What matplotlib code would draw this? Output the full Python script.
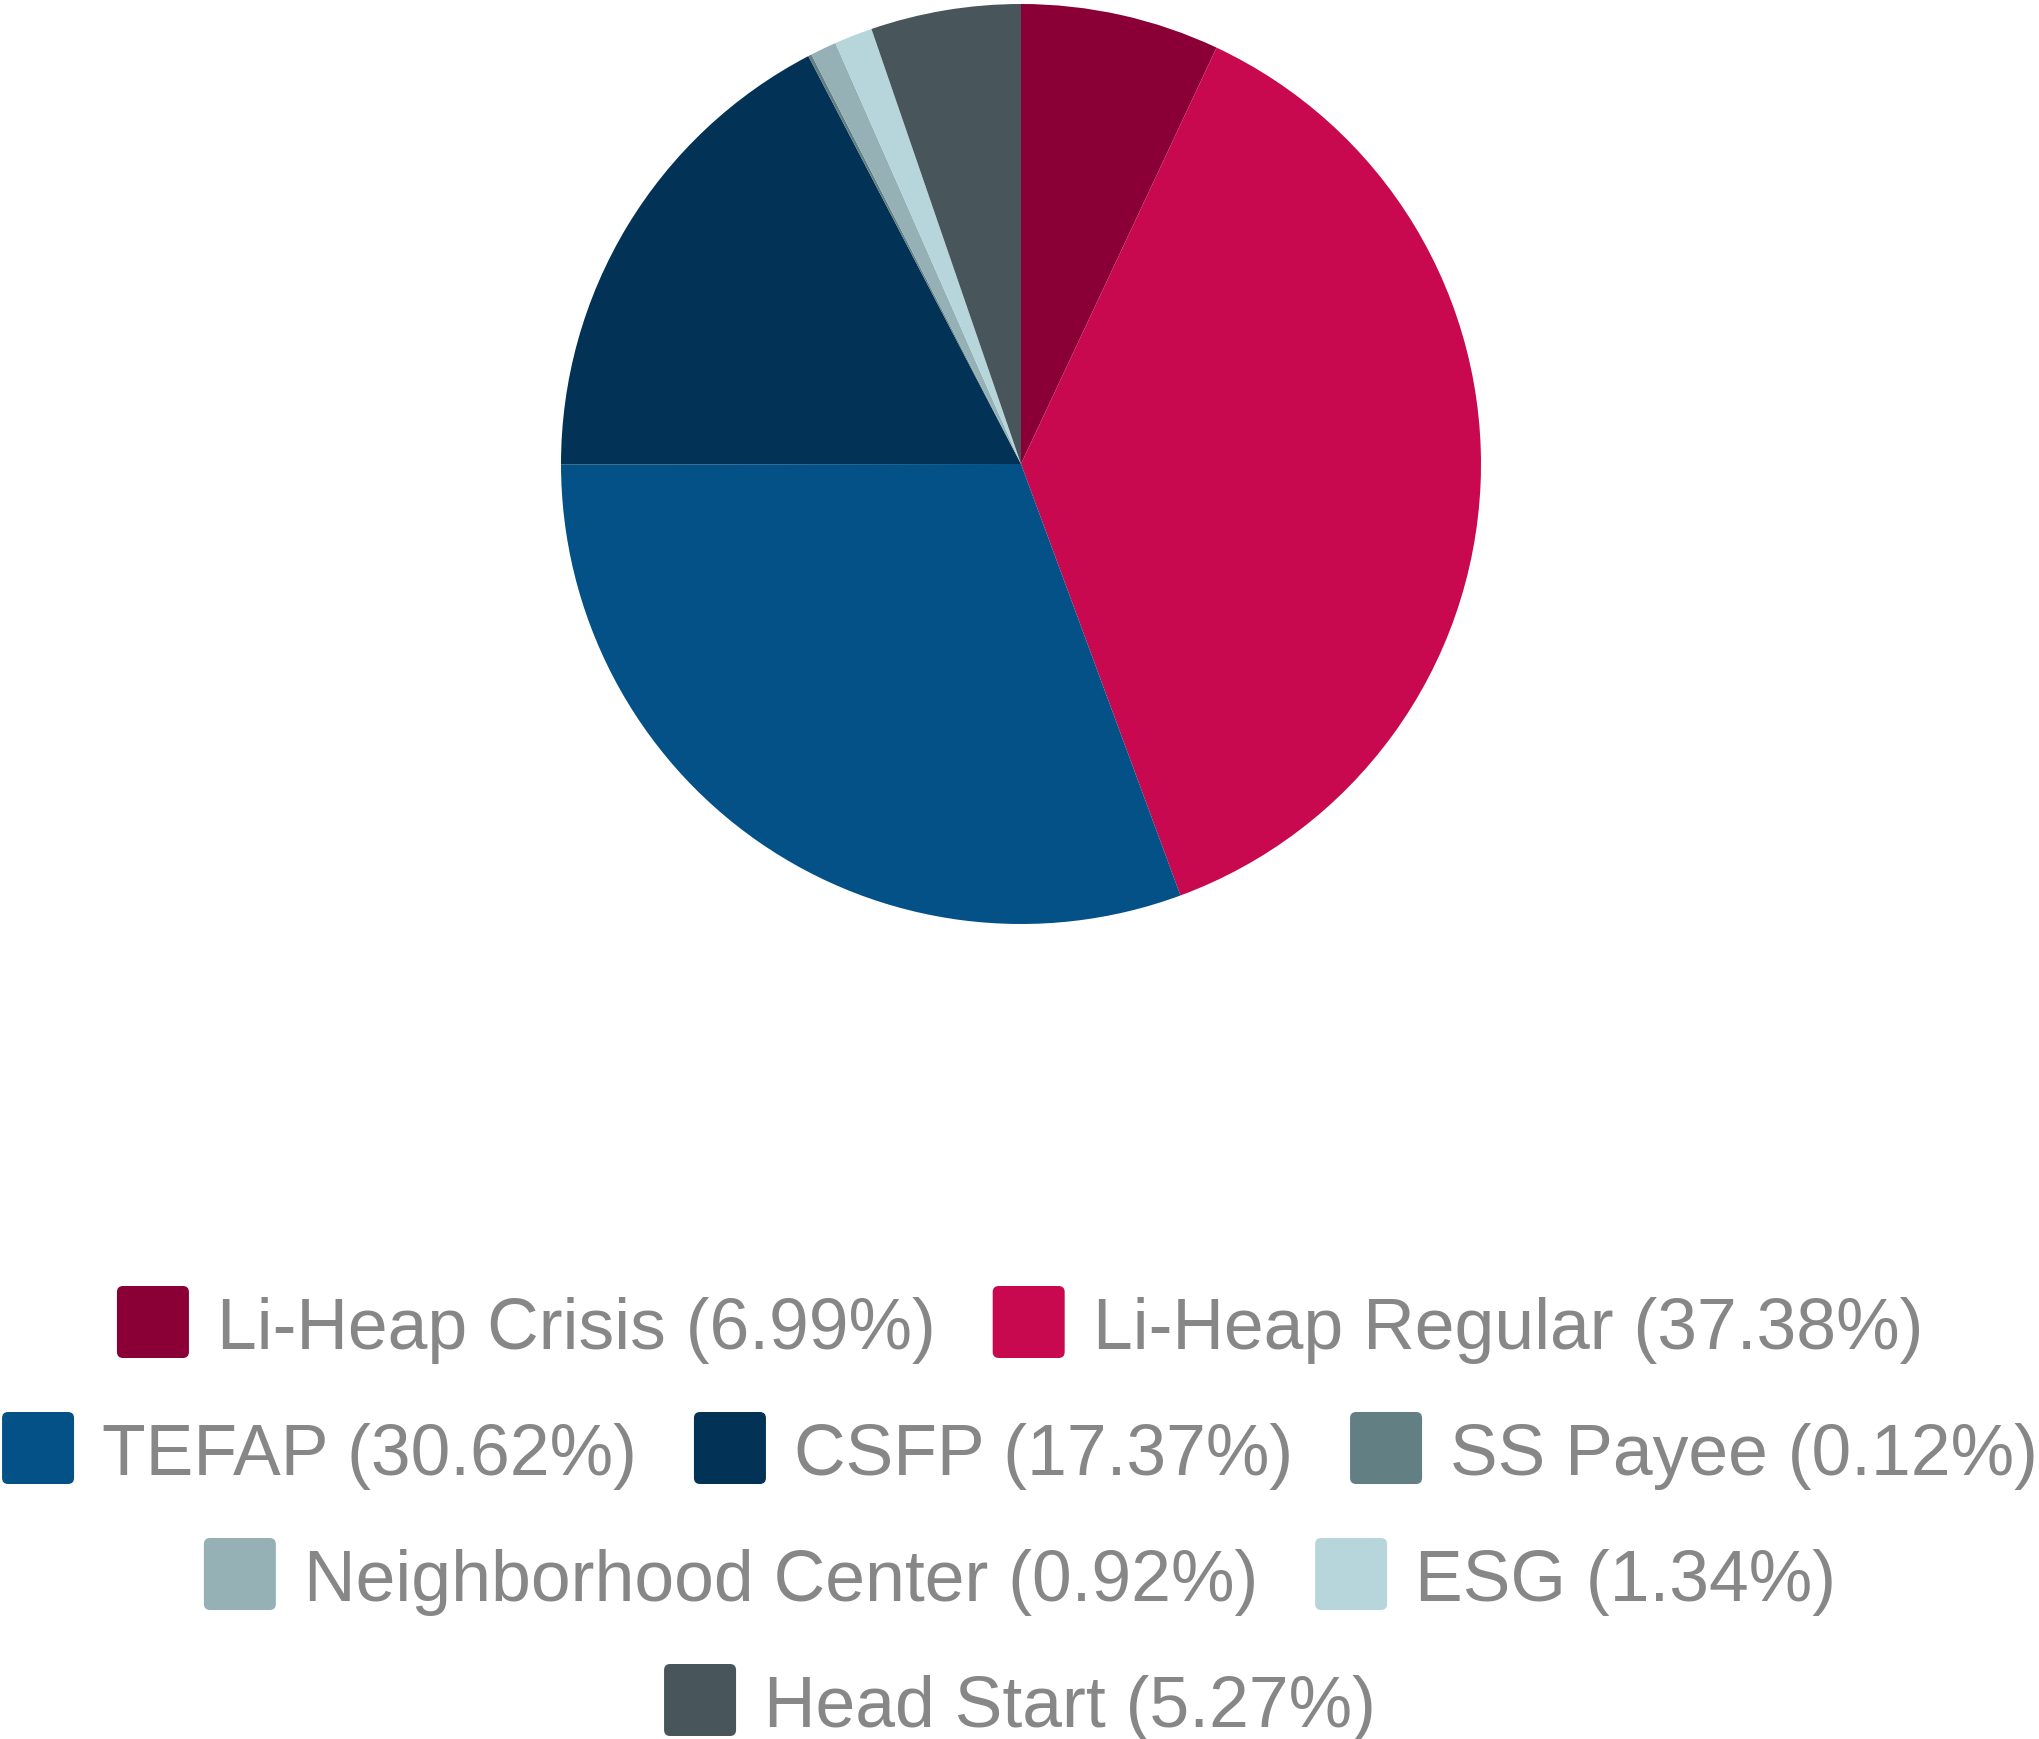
import matplotlib
matplotlib.use('Agg')
import matplotlib.pyplot as plt
from matplotlib.patches import FancyBboxPatch

# 数据
labels = ['Li-Heap Crisis', 'Li-Heap Regular', 'TEFAP', 'CSFP', 'SS Payee',
          'Neighborhood Center', 'ESG', 'Head Start']
shares = [6.99, 37.38, 30.62, 17.37, 0.12, 0.92, 1.34, 5.27]
colors = ['#8a0036', '#c8084f', '#035187', '#023357', '#627f84',
          '#95b1b6', '#b7d6db', '#48555a']
legend_rows = [[0, 1], [2, 3, 4], [5, 6], [7]]

plt.rcParams['font.family'] = ['Liberation Sans', 'DejaVu Sans']

W, H, DPI = 2040, 1740, 100
fig = plt.figure(figsize=(W / DPI, H / DPI), dpi=DPI)

# 饼图位置（像素）
cx, cy, r = 1021, 465, 460
ax = fig.add_axes([(cx - r) / W, (H - cy - r) / H, 2 * r / W, 2 * r / H])
ax.pie(shares, colors=colors, startangle=90, counterclock=False,
       wedgeprops=dict(linewidth=0))
ax.set_xlim(-1, 1)
ax.set_ylim(-1, 1)
ax.set_aspect('equal')
ax.axis('off')

# 图例（手动流式布局）
font_size = 51.5
text_color = '#878787'
box = 72
box_gap = 28
item_gap = 57
row_y = [1323, 1449, 1575, 1701]

renderer = fig.canvas.get_renderer()

for row, y in zip(legend_rows, row_y):
    texts = [f'{labels[i]} ({shares[i]:.2f}%)' for i in row]
    widths = []
    for t in texts:
        tmp = fig.text(0, 0, t, fontsize=font_size)
        widths.append(tmp.get_window_extent(renderer).width)
        tmp.remove()
    total = sum(box + box_gap + w for w in widths) + item_gap * (len(row) - 1)
    x = (W - total) / 2
    for i, t, w in zip(row, texts, widths):
        patch = FancyBboxPatch(((x) / W, (H - y - box / 2) / H), box / W, box / H,
                               boxstyle='round,pad=0,rounding_size=0.003',
                               transform=fig.transFigure, facecolor=colors[i],
                               edgecolor='none', mutation_aspect=W / H)
        fig.add_artist(patch)
        fig.text((x + box + box_gap) / W, (H - y) / H, t, fontsize=font_size,
                 color=text_color, ha='left', va='center_baseline')
        x += box + box_gap + w + item_gap

plt.savefig('out.png', dpi=DPI, facecolor='white')
plt.close()
